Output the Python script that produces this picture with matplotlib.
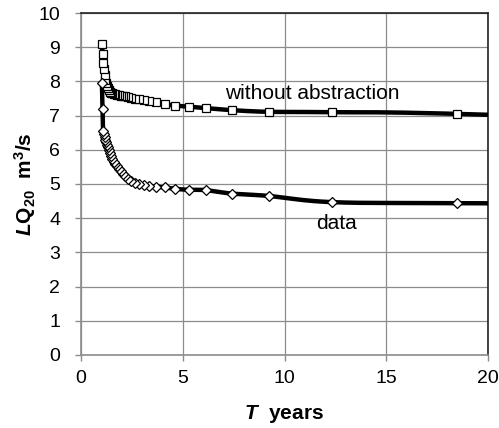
import numpy as np
import matplotlib.pyplot as plt

plt.rcParams['font.family'] = 'Liberation Sans'
plt.rcParams['mathtext.fontset'] = 'custom'
plt.rcParams['mathtext.rm'] = 'Liberation Sans'
plt.rcParams['mathtext.bf'] = 'Liberation Sans:bold'
plt.rcParams['mathtext.it'] = 'Liberation Sans:italic'
plt.rcParams['mathtext.bfit'] = 'Liberation Sans:bold:italic'

# return periods, Weibull plotting positions for a 36-year record
rank = np.arange(1, 37)
T = 37.0 / rank

no_abstraction = [6.70, 7.05, 7.10, 7.11, 7.16, 7.22, 7.26, 7.29, 7.34, 7.39,
                  7.43, 7.46, 7.49, 7.50, 7.52, 7.54, 7.56, 7.57, 7.58, 7.60,
                  7.61, 7.62, 7.63, 7.65, 7.67, 7.70, 7.74, 7.80, 7.87, 7.95,
                  8.05, 8.18, 8.35, 8.55, 8.80, 9.10]

observed = [4.40, 4.44, 4.47, 4.65, 4.72, 4.82, 4.83, 4.86, 4.90, 4.92,
            4.93, 4.96, 5.00, 5.04, 5.09, 5.15, 5.22, 5.30, 5.38, 5.45,
            5.52, 5.58, 5.65, 5.73, 5.82, 5.92, 6.00, 6.08, 6.15, 6.22,
            6.30, 6.38, 6.45, 6.55, 7.20, 7.95]


def smooth(x, y, n=20):
    # Catmull-Rom curve through the points
    x = np.asarray(x, float)
    y = np.asarray(y, float)
    px = np.concatenate([[2 * x[0] - x[1]], x, [2 * x[-1] - x[-2]]])
    py = np.concatenate([[2 * y[0] - y[1]], y, [2 * y[-1] - y[-2]]])
    t = np.linspace(0, 1, n)[:, None]
    xs, ys = [], []
    for i in range(1, len(px) - 2):
        for p, out in ((px, xs), (py, ys)):
            p0, p1, p2, p3 = p[i - 1], p[i], p[i + 1], p[i + 2]
            c = 0.5 * ((2 * p1) + (-p0 + p2) * t +
                       (2 * p0 - 5 * p1 + 4 * p2 - p3) * t ** 2 +
                       (-p0 + 3 * p1 - 3 * p2 + p3) * t ** 3)
            out.append(c.ravel())
    return np.concatenate(xs), np.concatenate(ys)


fig = plt.figure(figsize=(4.99, 4.28), dpi=100)
ax = fig.add_axes([0.1623, 0.1706, 0.8157, 0.799])

for vals, mk in ((no_abstraction, 's'), (observed, 'D')):
    sx, sy = smooth(T, vals)
    ax.plot(sx, sy, color='black', lw=3.2, zorder=3, solid_capstyle='butt')
    ax.plot(T, vals, ls='none', marker=mk, ms=5.5 if mk == 's' else 5,
            mfc='white', mec='black', mew=0.9, zorder=4)

ax.set_xlim(0, 20)
ax.set_ylim(0, 10)
ax.set_xticks(np.arange(0, 21, 5))
ax.set_yticks(np.arange(0, 11, 1))
ax.grid(True, color='#8c8c8c', lw=0.9)
ax.set_axisbelow(True)
ax.tick_params(labelsize=14, color='#8c8c8c', length=4, width=1)
ax.tick_params(axis='x', pad=7)
ax.tick_params(axis='y', pad=11)
for s in ('top', 'right'):
    ax.spines[s].set_color('#222222')
    ax.spines[s].set_linewidth(1.2)
for s in ('left', 'bottom'):
    ax.spines[s].set_color('#8c8c8c')
    ax.spines[s].set_linewidth(1.2)

ax.text(7.08, 7.65, 'without abstraction', fontsize=15, va='center', ha='left')
ax.text(12.56, 3.85, 'data', fontsize=15, va='center', ha='center')

ax.set_xlabel(r'$\mathbfit{T}$  years', fontsize=15, fontweight='bold')
ax.set_ylabel(r'$\mathbfit{L}\mathbf{Q}_{\mathbf{20}}$  m$^{\mathbf{3}}$/s',
              fontsize=15, fontweight='bold')
ax.xaxis.set_label_coords(0.5, -0.140)
ax.yaxis.set_label_coords(-0.105, 0.5)

fig.savefig('out.png', dpi=100, facecolor='white')
